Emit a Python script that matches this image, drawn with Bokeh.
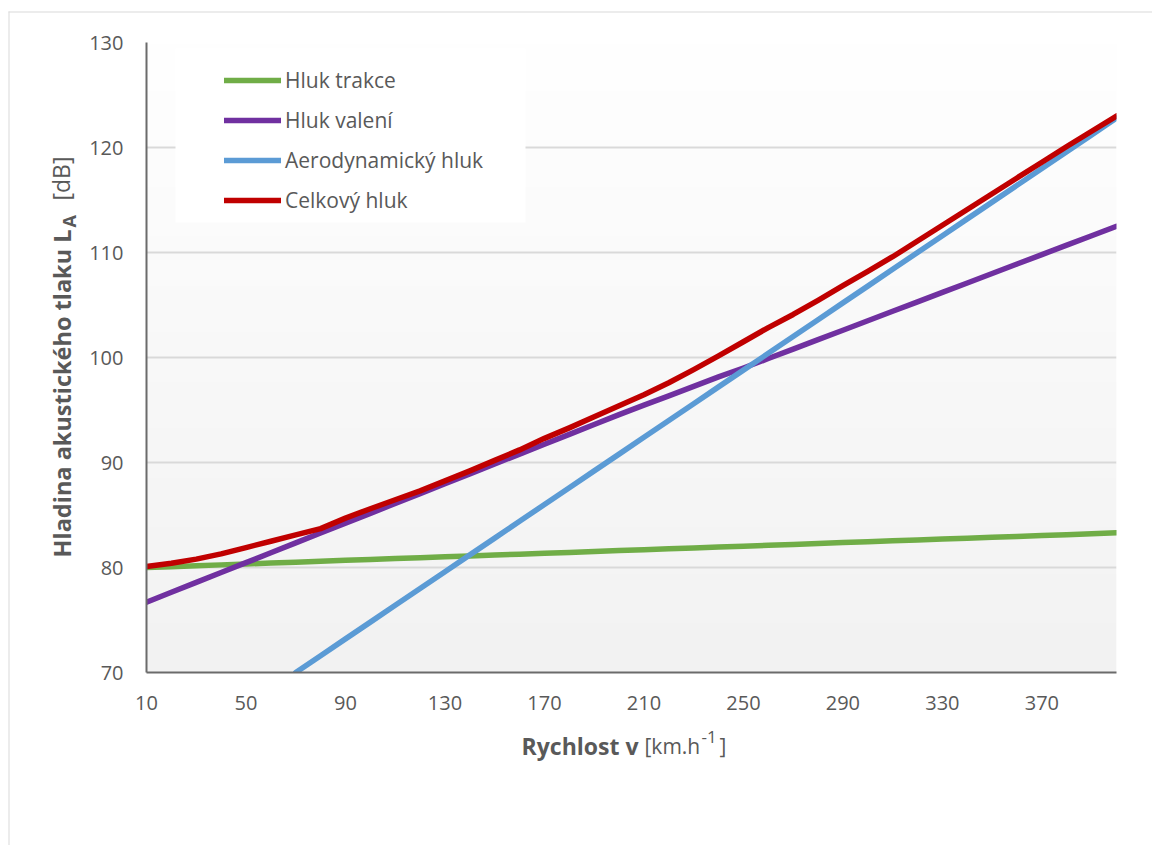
import numpy as np
from bokeh.plotting import figure
from bokeh.models import Range1d, FixedTicker, Legend, LegendItem, BoxAnnotation
from bokeh.core.properties import value
from bokeh.embed import file_html
from bokeh.resources import INLINE

# ---------------- data ----------------
speeds = [10, 20, 30, 40, 50, 60, 70, 80, 90, 100, 110, 120, 130, 140, 150, 160, 170, 180, 190, 200,
          210, 220, 230, 240, 250, 260, 270, 280, 290, 300, 310, 320, 330, 340, 350, 360, 370, 380, 390, 400]

traction = [80.00, 80.08, 80.17, 80.25, 80.34, 80.42, 80.51, 80.59, 80.68, 80.76, 80.85, 80.93, 81.02,
            81.10, 81.19, 81.27, 81.35, 81.44, 81.52, 81.61, 81.69, 81.78, 81.86, 81.95, 82.03, 82.12,
            82.20, 82.29, 82.37, 82.46, 82.54, 82.62, 82.71, 82.79, 82.88, 82.96, 83.05, 83.13, 83.22, 83.30]

rolling = [76.70, 77.64, 78.58, 79.52, 80.46, 81.40, 82.34, 83.28, 84.22, 85.16, 86.10, 87.04, 87.98,
           88.92, 89.86, 90.80, 91.74, 92.68, 93.62, 94.56, 95.46, 96.35, 97.25, 98.15, 99.00, 99.90,
           100.80, 101.70, 102.60, 103.50, 104.40, 105.30, 106.20, 107.10, 108.00, 108.90, 109.80,
           110.70, 111.60, 112.50]

aero_speeds = [70, 80, 90, 100, 110, 120, 130, 140, 150, 160, 170, 180, 190, 200, 210, 220, 230, 240, 250,
               260, 270, 280, 290, 300, 310, 320, 330, 340, 350, 360, 370, 380, 390, 400]
aero = [70.0, 71.6, 73.2, 74.8, 76.4, 78.0, 79.6, 81.2, 82.8, 84.4, 86.0, 87.6, 89.2, 90.8, 92.4, 94.0,
        95.6, 97.2, 98.8, 100.4, 102.0, 103.6, 105.2, 106.8, 108.4, 110.0, 111.6, 113.2, 114.8, 116.4,
        118.0, 119.6, 121.2, 122.8]

total = [80.10, 80.40, 80.80, 81.30, 81.90, 82.50, 83.10, 83.70, 84.70, 85.60, 86.45, 87.30, 88.25,
         89.20, 90.20, 91.20, 92.30, 93.30, 94.35, 95.40, 96.45, 97.60, 98.85, 100.15, 101.50, 102.85,
         104.10, 105.45, 106.85, 108.20, 109.60, 111.10, 112.60, 114.10, 115.60, 117.10, 118.60,
         120.10, 121.55, 123.00]

series_names = ["Hluk trakce", "Hluk valení", "Aerodynamický hluk", "Celkový hluk"]
series_colors = ["#70ad47", "#7030a0", "#5b9bd5", "#c00000"]

x_ticks = [10, 50, 90, 130, 170, 210, 250, 290, 330, 370]
y_ticks = [70, 80, 90, 100, 110, 120, 130]

X_MIN, X_MAX = 10, 400
Y_MIN, Y_MAX = 70, 130

# ---------------- layout ----------------
FONT = "Open Sans"
GREY = "#595959"
W, H = 1152, 845
FRAME_L, FRAME_T, FRAME_W, FRAME_H = 146, 42, 970, 630

p = figure(width=W, height=H, output_backend="svg", toolbar_location=None,
           x_range=Range1d(X_MIN, X_MAX), y_range=Range1d(Y_MIN, Y_MAX),
           min_border_left=FRAME_L, min_border_top=FRAME_T,
           min_border_right=W - FRAME_L - FRAME_W,
           min_border_bottom=H - FRAME_T - FRAME_H)
p.frame_width = FRAME_W
p.frame_height = FRAME_H
p.outline_line_color = None
p.background_fill_color = "#ffffff"
p.border_fill_color = "#ffffff"


def px2x(px):
    return X_MIN + (px - FRAME_L) * (X_MAX - X_MIN) / FRAME_W


def py2y(py):
    return Y_MAX - (py - FRAME_T) * (Y_MAX - Y_MIN) / FRAME_H


# vertical gradient background (white at top -> light grey at bottom)
n = 256
img = np.empty((n, 1), dtype=np.uint32)
view = img.view(dtype=np.uint8).reshape((n, 1, 4))
t = np.linspace(0, 1, n)  # 0 bottom, 1 top
c = (242 + (255 - 242) * t).astype(np.uint8)
view[:, 0, 0] = c
view[:, 0, 1] = c
view[:, 0, 2] = c
view[:, 0, 3] = 255
p.image_rgba(image=[img], x=X_MIN, y=Y_MIN, dw=X_MAX - X_MIN, dh=Y_MAX - Y_MIN, level="image")

# axes
p.xaxis.ticker = FixedTicker(ticks=x_ticks)
p.yaxis.ticker = FixedTicker(ticks=y_ticks)
for ax in (p.xaxis, p.yaxis):
    ax.major_tick_in = 0
    ax.major_tick_out = 0
    ax.minor_tick_in = 0
    ax.minor_tick_out = 0
    ax.axis_line_color = "#6b6b6b"
    ax.axis_line_width = 2
    ax.major_label_text_font = FONT
    ax.major_label_text_font_size = "20px"
    ax.major_label_text_color = GREY
p.xaxis.major_label_standoff = 23
p.yaxis.major_label_standoff = 23

p.xgrid.visible = False
p.ygrid.grid_line_color = "#d9d9d9"
p.ygrid.grid_line_width = 2

# legend white box
p.add_layout(BoxAnnotation(left=px2x(175), right=px2x(525), top=py2y(48), bottom=py2y(222),
                           fill_color="#ffffff", fill_alpha=1.0, line_alpha=0, level="underlay"))

# lines
LW = 5.5
r_tr = p.line(speeds, traction, line_color=series_colors[0], line_width=LW, line_cap="round", line_join="round")
r_ro = p.line(speeds, rolling, line_color=series_colors[1], line_width=LW, line_cap="round", line_join="round")
r_ae = p.line(aero_speeds, aero, line_color=series_colors[2], line_width=LW, line_cap="round", line_join="round")
r_to = p.line(speeds, total, line_color=series_colors[3], line_width=LW, line_cap="round", line_join="round")

legend = Legend(items=[LegendItem(label=series_names[0], renderers=[r_tr]),
                       LegendItem(label=series_names[1], renderers=[r_ro]),
                       LegendItem(label=series_names[2], renderers=[r_ae]),
                       LegendItem(label=series_names[3], renderers=[r_to])],
                location=(224 - FRAME_L, (FRAME_T + FRAME_H) - 220),
                glyph_width=57, glyph_height=40, label_height=40, spacing=0, padding=0,
                label_standoff=4, margin=0,
                label_text_font=FONT, label_text_font_size="21px", label_text_color=GREY,
                background_fill_alpha=0, border_line_alpha=0)
p.add_layout(legend)


def txt(px, py, s, size, bold=False, angle=0.0, align="left"):
    p.text(x=[px2x(px)], y=[py2y(py)], text=[s], text_font=value(FONT),
           text_font_size=value(f"{size}px"),
           text_font_style=value("bold" if bold else "normal"), text_color=GREY, angle=angle,
           text_align=value(align), text_baseline=value("alphabetic"), level="overlay")


# x axis title: "Rychlost v [km.h-1]"
txt(638, 745, "Rychlost v", 23, bold=True, align="right")
txt(644, 745, "[km.h", 21)
txt(701, 736, "-1", 17)
txt(719, 745, "]", 21)

# y axis title: "Hladina akustického tlaku L_A [dB]" (rotated)
ang = np.pi / 2
txt(61, 229, "Hladina akustického tlaku L", 23.5, bold=True, angle=ang, align="right")
txt(68, 227, "A", 18, bold=True, angle=ang)
txt(60, 200, "[dB]", 23, angle=ang)

# outer chart-area border (left and top edges visible)
p.segment(x0=[px2x(8.5), px2x(8)], y0=[py2y(11), py2y(11.5)],
          x1=[px2x(8.5), px2x(W)], y1=[py2y(H), py2y(11.5)],
          line_color="#d9d9d9", line_width=1, level="overlay")

open("out.html", "w").write(file_html(p, INLINE))
